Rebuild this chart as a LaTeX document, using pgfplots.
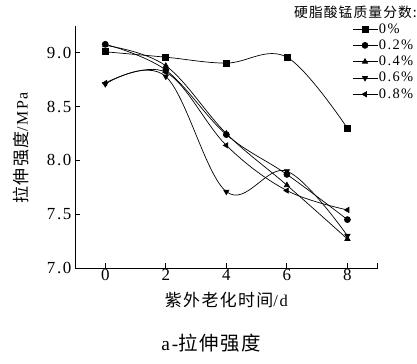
\documentclass[border=0pt]{standalone}
\usepackage{pgfplots}
\pgfplotsset{compat=1.18}
\usepackage{fontspec}
\setmainfont{Liberation Serif}
\newfontfamily\cjk[LetterSpace=8]{Noto Sans CJK SC}
\newfontfamily\spaced[LetterSpace=10]{Liberation Serif}
\begin{document}
\begin{tikzpicture}
\begin{axis}[
  scale only axis, width=302.7bp, height=242bp,
  xmin=-1, xmax=9, ymin=7, ymax=9.25,
  axis x line*=bottom, axis y line*=left,
  axis line style={line width=0.8pt, -},
  xtick={0,2,4,6,8}, ytick={7,7.5,8,8.5,9},
  extra x ticks={9}, extra x tick labels={},
  /pgf/number format/assume math mode=true,
  yticklabel style={/pgf/number format/fixed, /pgf/number format/fixed zerofill, /pgf/number format/precision=1},
  tick align=inside, major tick length=5bp,
  tick style={line width=0.8pt, black},
  ticklabel style={font=\spaced\fontsize{17}{19}\selectfont},
  xticklabel style={yshift=2bp},
  xlabel={\cjk 紫外老化时间\spaced\fontsize{16.5}{18}\selectfont/d},
  ylabel={\cjk 拉伸强度\spaced\fontsize{16}{18}\selectfont/MPa},
  label style={font=\fontsize{17}{19}\selectfont},
  xlabel style={at={(axis description cs:0.5,-0.132)}, anchor=center},
  ylabel style={at={(axis description cs:-0.178,0.496)}, anchor=center},
  clip=false,
  every axis plot/.append style={black, line width=0.7pt, smooth, tension=0.6, mark size=3pt},
  legend style={at={(0.915,1.015)}, anchor=north west, draw=none, fill=none,
    font=\spaced\fontsize{14.5}{16}\selectfont, row sep=3.3bp, inner sep=0pt,
    nodes={inner sep=0pt, text height=10.5bp, text depth=2.5bp},
    /tikz/every odd column/.append style={column sep=1bp}},
  legend cell align=left,
  legend image code/.code={\draw[mark repeat=2,mark phase=2,#1] plot coordinates {(0bp,0bp)(12.5bp,0bp)(25bp,0bp)};},
]
\addplot[mark=square*] coordinates {(0,9.01) (2,8.96) (4,8.905) (6,8.96) (8,8.30)};
\addlegendentry{0\%}
\addplot[mark=*] coordinates {(0,9.08) (2,8.84) (4,8.24) (6,7.87) (8,7.45)};
\addlegendentry{0.2\%}
\addplot[mark=triangle*] coordinates {(0,9.07) (2,8.88) (4,8.25) (6,7.77) (8,7.27)};
\addlegendentry{0.4\%}
\addplot[mark=triangle*, mark options={rotate=180}] coordinates {(0,8.71) (2,8.78) (4,7.71) (6,7.90) (8,7.30)};
\addlegendentry{0.6\%}
\addplot[mark=triangle*, mark options={rotate=90}] coordinates {(0,8.72) (2,8.82) (4,8.14) (6,7.72) (8,7.54)};
\addlegendentry{0.8\%}
\end{axis}
\node[anchor=east, font=\cjk\fontsize{13.8}{16}\selectfont, inner sep=0pt] at (342bp,256bp) {硬脂酸锰质量分数:};
\node[font=\fontsize{19.5}{21}\selectfont, inner sep=0pt] at (136bp,-75bp) {\spaced a-\cjk 拉伸强度};
\path[use as bounding box] (-75bp,-96bp) rectangle (342bp,268bp);
\end{tikzpicture}
\end{document}
